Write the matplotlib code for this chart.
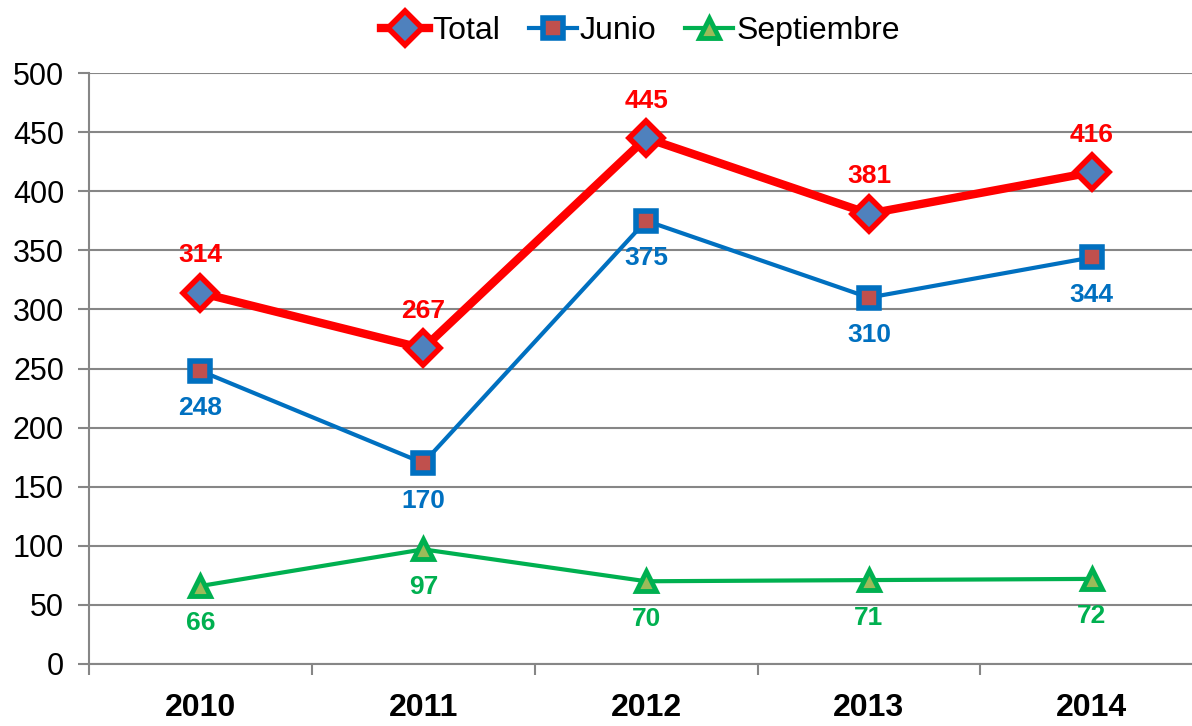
import matplotlib.pyplot as plt
import numpy as np

plt.rcParams['font.family'] = ['Liberation Sans', 'DejaVu Sans']

years = ['2010', '2011', '2012', '2013', '2014']
total = [314, 267, 445, 381, 416]
junio = [248, 170, 375, 310, 344]
septiembre = [66, 97, 70, 71, 72]

fig = plt.figure(figsize=(11.92, 7.26), dpi=100)
ax = fig.add_axes([0.0747, 0.0854, 0.9253, 0.814])

x = np.arange(len(years))
grid_color = '#868686'

ax.plot(x, total, color='#FF0000', lw=6, marker='D', markersize=17,
        markerfacecolor='#4F81BD', markeredgecolor='#FF0000', markeredgewidth=4,
        label='Total', zorder=5)
ax.plot(x, junio, color='#0070C0', lw=3, marker='s', markersize=15,
        markerfacecolor='#C0504D', markeredgecolor='#0070C0', markeredgewidth=4,
        label='Junio', zorder=4)
ax.plot(x, septiembre, color='#00B050', lw=3, marker='^', markersize=15,
        markerfacecolor='#9BBB59', markeredgecolor='#00B050', markeredgewidth=3.5,
        label='Septiembre', zorder=4)

# etiquetas de datos
for i in x:
    ax.annotate(str(total[i]), (i, total[i]), xytext=(0, 27), textcoords='offset points',
                ha='center', va='center', fontsize=19, fontweight='bold', color='#FF0000')
    ax.annotate(str(junio[i]), (i, junio[i]), xytext=(0, -27), textcoords='offset points',
                ha='center', va='center', fontsize=19, fontweight='bold', color='#0070C0')
    ax.annotate(str(septiembre[i]), (i, septiembre[i]), xytext=(0, -27), textcoords='offset points',
                ha='center', va='center', fontsize=19, fontweight='bold', color='#00B050')

ax.set_yticks(range(0, 501, 50))
ax.set_xticks(x)
ax.set_xticklabels(years, fontsize=23, fontweight='bold')
ax.set_xticks(np.arange(-0.5, 4.6, 1), minor=True)
ax.set_xlim(-0.5, 4.45)
ax.set_ylim(0, 500)
ax.tick_params(axis='x', which='major', length=0, pad=21)
ax.tick_params(axis='x', which='minor', length=8, width=1.5, color=grid_color)
ax.tick_params(axis='y', length=8, width=1.5, color=grid_color, labelsize=22, pad=10)

ax.grid(axis='y', color=grid_color, lw=1.5)
ax.set_axisbelow(True)
for s in ['top', 'right']:
    ax.spines[s].set_visible(False)
for s in ['left', 'bottom']:
    ax.spines[s].set_color(grid_color)
    ax.spines[s].set_linewidth(1.5)

ax.legend(loc='lower center', bbox_to_anchor=(0.5, 1.03), ncol=3, frameon=False,
          fontsize=23, handlelength=1.5, handletextpad=0.1, columnspacing=0.9,
          borderaxespad=0.1, borderpad=0.2)

plt.savefig('out.png', dpi=100)
